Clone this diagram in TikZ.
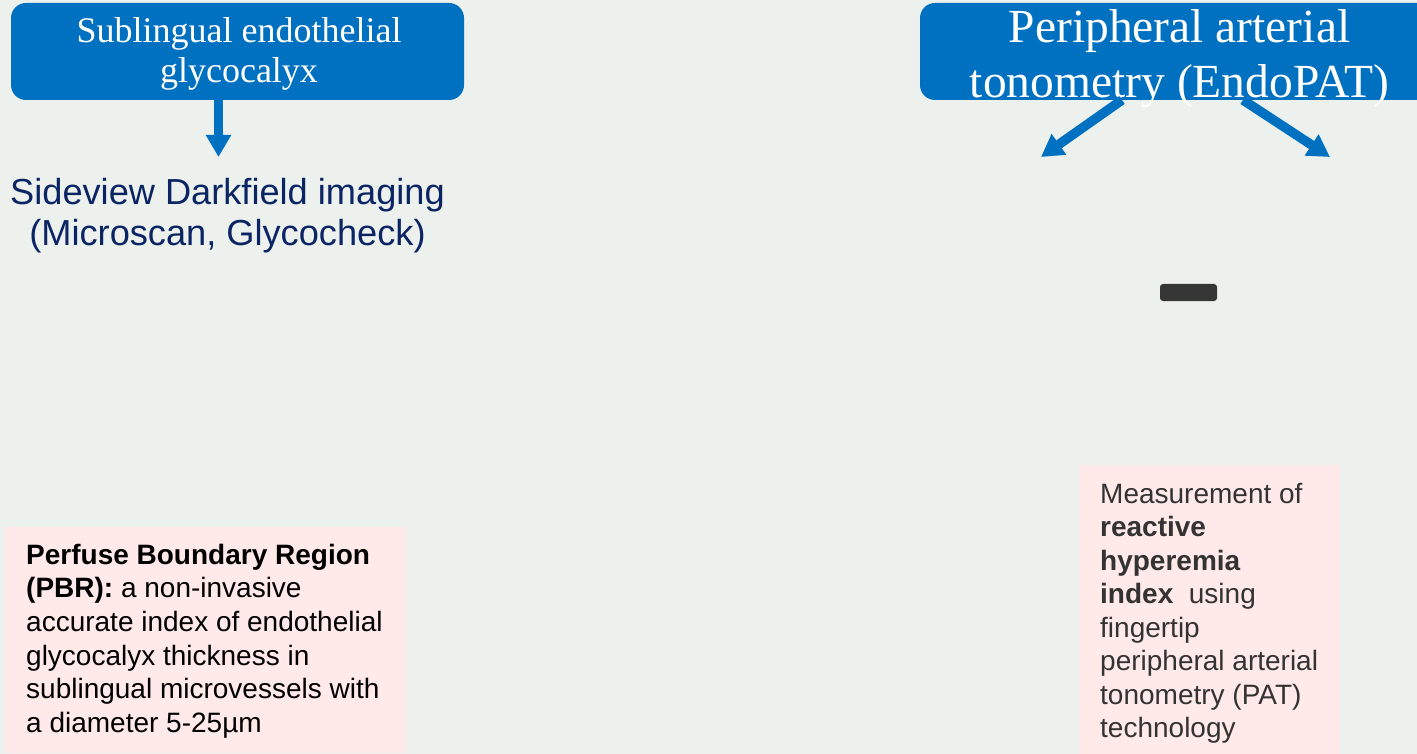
\documentclass[tikz,border=0pt]{standalone}
\usepackage{fontspec}
\setmainfont{Liberation Serif}
\setsansfont{Liberation Sans}
\usetikzlibrary{arrows.meta}
\definecolor{bg}{HTML}{EDF1EE}
\definecolor{bluebox}{HTML}{0070C0}
\definecolor{navy}{HTML}{0B2463}
\definecolor{pinkbox}{HTML}{FFE9E9}
\definecolor{darkbar}{HTML}{363636}
\definecolor{greytext}{HTML}{333333}
\tikzset{
  x=1pt, y=-1pt,
  headbox/.style={draw=none, fill=bluebox, rounded corners=15pt, inner sep=0pt},
  headtext/.style={text=white, align=center, inner sep=0pt, anchor=north},
  notebox/.style={draw=none, fill=pinkbox, inner sep=0pt},
  bigarrow/.style={draw=bluebox, line width=9.5pt, -{Triangle[width=24pt,length=22pt]}},
}
\begin{document}
\begin{tikzpicture}
\useasboundingbox (0,0) rectangle (1417,754);
\fill[bg] (0,0) rectangle (1417,754);

% left header box
\node[headbox, minimum width=453pt, minimum height=97pt] (b1) at (237.5,51.5) {};
\node[headtext, font=\fontsize{36}{40}\selectfont] (t1) at (239,14.5) {\strut Sublingual endothelial\\glycocalyx};

% right header box (runs off the page)
\node[headbox, minimum width=520pt, minimum height=97pt] (b2) at (1180,51.5) {};
\node[headtext, font=\fontsize{47.5}{55.5}\selectfont] (t2) at (1179.5,3) {\strut Peripheral arterial\\tonometry (EndoPAT)};

% sideview text
\node[text=navy, align=center, inner sep=0pt, anchor=north, font=\sffamily\fontsize{36.2}{41.5}\selectfont] (sdf) at (227.5,175) {\strut Sideview Darkfield imaging\\(Microscan, Glycocheck)};

% arrows
\coordinate (a1) at (218.5,157);
\draw[bigarrow] (b1.south -| a1) -- (a1);
\coordinate (a2s) at (1122,100);
\coordinate (a2e) at (1041,157);
\coordinate (a3s) at (1243,100);
\coordinate (a3e) at (1330,157);
\draw[bigarrow] (a2s) -- (a2e);
\draw[bigarrow] (a3s) -- (a3e);

% dark bar
\node[fill=darkbar, rounded corners=3pt, minimum width=57pt, minimum height=17pt, inner sep=0pt] (bar) at (1188.5,292.5) {};

% pink note boxes
\node[notebox, minimum width=401pt, minimum height=226pt] (n1) at (205.5,640) {};
\node[anchor=north west, align=left, inner sep=0pt, font=\sffamily\fontsize{28}{33.6}\selectfont] (n1t) at (26,540.5)
{\strut\textbf{Perfuse Boundary Region}\\\textbf{(PBR):} a non-invasive\\accurate index of endothelial\\glycocalyx thickness in\\sublingual microvessels with\\a diameter 5-25µm};

\node[notebox, minimum width=261pt, minimum height=295pt] (n2) at (1209,612.5) {};
\node[anchor=north west, align=left, inner sep=0pt, text=greytext, font=\sffamily\fontsize{28}{33.5}\selectfont] (n2t) at (1100,479.5)
{\strut Measurement of\\\textbf{reactive}\\\textbf{hyperemia}\\\textbf{index}~ using\\fingertip\\peripheral arterial\\tonometry (PAT)\\technology};
\end{tikzpicture}
\end{document}
